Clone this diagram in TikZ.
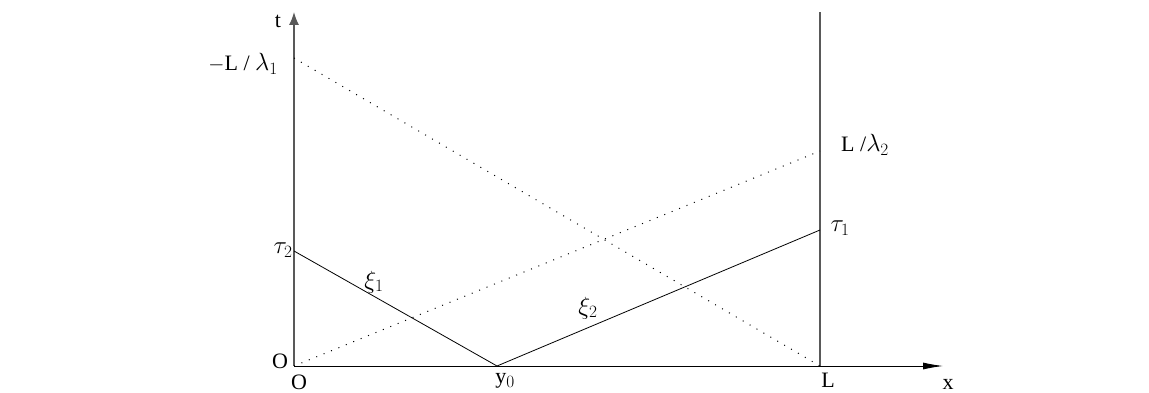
\documentclass[tikz,border=0pt]{standalone}
\usepackage{fontspec}
\setmainfont{Liberation Serif}
\usetikzlibrary{positioning,arrows.meta}

\newcommand{\bigsym}[1]{{\fontsize{27}{29}\selectfont$#1$}}

\begin{document}
\begin{tikzpicture}[
  x=1pt, y=1pt,
  every node/.style={font=\fontsize{22}{24}\selectfont, inner sep=1pt},
  taxis/.style={-{Latex[length=13pt,width=10pt]}},
  xaxis/.style={-{Latex[length=20pt,width=7pt]}},
  path/.style={black, line width=0.8pt},
  guide/.style={black, line width=1pt, dash pattern=on 1pt off 7pt}
]
\useasboundingbox (0,0) rectangle (1149,392);

% points
\coordinate (o) at (294,26);
\coordinate (tmax) at (294,380);
\coordinate (xmax) at (943,26);
\coordinate (lbot) at (820,26);
\coordinate (ltop) at (820,380);
\coordinate (ta2) at (294,141);
\coordinate (ta1) at (820,162);
\coordinate (y0) at (497,26);
\coordinate (g1) at (294,334);
\coordinate (g2) at (820,241);

% axes
\draw[taxis, gray!70!black, line width=1.4pt] (o) -- (tmax);
\draw[xaxis, line width=0.9pt] (o) -- (xmax);
\draw[gray!70!black, line width=1.4pt] (lbot) -- (ltop);

% characteristics
\draw[guide] (o) -- (g2);
\draw[guide] (g1) -- (lbot);
\draw[path] (ta2) -- (y0) -- (ta1);

% labels
\node (lt) at (278,371) {t};
\node (lx) at (948,8) {x};
\node (lo1) at (280,31) {O};
\node (lo2) at (299,10) {O};
\node (ly0) at (505,11) {y\bigsym{_0}};
\node (ll) at (828,12) {L};
\node (lta2) at (283,142) {\bigsym{\tau_2}};
\node (lta1) at (840,164) {\bigsym{\tau_1}};
\node[anchor=east] (lg1) at (279,328) {$-$L / \bigsym{\lambda_1}};
\node[anchor=west] (lg2) at (840,247) {L /\bigsym{\lambda_2}};
\node (lxi1) at (374,110) {\bigsym{\xi_1}};
\node (lxi2) at (588,84) {\bigsym{\xi_2}};
\end{tikzpicture}
\end{document}
